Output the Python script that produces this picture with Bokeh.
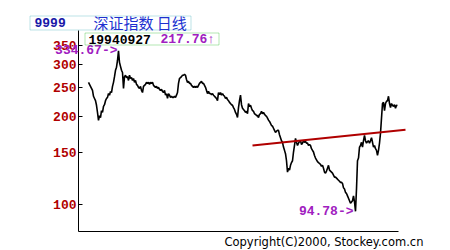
from bokeh.plotting import figure
from bokeh.models import Range1d, FixedTicker, PrintfTickFormatter, Label, BoxAnnotation
from bokeh.embed import file_html
from bokeh.resources import INLINE

# daily close of the Shenzhen index (one value per trading-day slot)
close = [
    261, 257, 253, 249, 245, 234, 230, 226, 218, 206,
    193.5, 201, 198, 209, 206, 216, 219, 226, 230, 232,
    239, 236, 243, 241, 253, 261, 273, 287, 294, 310,
    334.67, 305, 296, 287, 282, 249, 273, 276, 271, 273,
    265, 276, 269, 271, 265, 269, 261, 265, 257, 255,
    251, 249, 253, 245, 241, 253, 255, 257, 261, 259,
    261, 257, 261, 259, 261, 255, 253, 251, 253, 249,
    251, 247, 245, 247, 243, 241, 245, 236, 239, 230,
    239, 236, 232, 234, 232, 232, 234, 232, 236, 241,
    259, 269, 271, 273, 276, 276, 278, 276, 267, 261,
    263, 259, 259, 255, 253, 251, 253, 251, 253, 251,
    255, 259, 261, 263, 259, 259, 255, 251, 245, 239,
    243, 239, 239, 237, 239, 236, 234, 232, 230, 226,
    241, 237, 241, 236, 239, 236, 234, 230, 232, 228,
    226, 223, 221, 219, 218, 214, 211, 206, 203, 198,
    214, 226, 236, 219, 213, 211, 209, 206, 208, 204,
    221, 216, 218, 213, 209, 208, 204, 203, 201, 201,
    198, 203, 204, 208, 204, 206, 203, 201, 200, 197,
    194, 192, 189, 186, 185, 182, 179, 176, 178, 179,
    179, 173, 169, 165, 163, 157, 153, 149, 141, 129,
    133, 131, 136, 139, 141, 151, 159, 168, 163, 159,
    162, 164, 165, 160, 162, 165, 163, 164, 162, 162,
    159, 160, 159, 155, 153, 151, 147, 144, 142, 140,
    139, 138, 137, 135, 136, 133, 129, 128, 130, 133,
    136, 131, 130, 129, 128, 126, 124, 124, 123, 122,
    121, 120, 119, 119, 118, 114, 113, 110, 109, 107,
    105, 103, 101, 102, 103, 107, 102, 94.78, 113, 141,
    144, 157, 159, 163, 157, 165, 172, 165, 162, 164,
    165, 162, 165, 169, 163, 157, 159, 155, 153, 147,
    153, 162, 175, 197, 221, 223, 209, 221, 225, 226,
    234, 221, 214, 221, 218, 216, 219, 213, 218, 217.76,
]
day = list(range(10, 10 + len(close)))

trend_day = [174, 327]
trend_val = [159.0, 180.0]

peak_day, peak_val = 40, 334.67
low_day, low_val = 277, 94.78

tick_vals = [100, 150, 200, 250, 300, 350]
axis_x_span = (0, 320)
axis_y_span = (80.89, 392.3)
code = "9999"
name = "深证指数 日线"
last_date = "19940927"
last_val = "217.76↑"
copyright_text = "Copyright(C)2000, Stockey.com.cn"

MONO = "Liberation Mono"
RED = "#b00000"
PURPLE = "#a020c0"

p = figure(width=450, height=250, x_range=Range1d(-78, 372), y_range=Range1d(69.67, 496.5),
           y_axis_type="log", output_backend="svg", toolbar_location=None, min_border=0)
p.outline_line_color = None
p.xgrid.visible = False
p.ygrid.visible = False
p.background_fill_color = "white"
p.border_fill_color = "white"

# x axis: plain line only
p.xaxis.ticker = FixedTicker(ticks=[])
p.xaxis.major_tick_line_color = None
p.xaxis.minor_tick_line_color = None
p.xaxis.fixed_location = axis_y_span[0]
p.xaxis.bounds = axis_x_span
p.xaxis.axis_line_color = "black"

# y axis
p.yaxis.ticker = FixedTicker(ticks=tick_vals, minor_ticks=[])
p.yaxis.formatter = PrintfTickFormatter(format="%d")
p.yaxis.fixed_location = axis_x_span[0]
p.yaxis.bounds = axis_y_span
p.yaxis.major_tick_in = 4
p.yaxis.major_tick_out = 0
p.yaxis.minor_tick_line_color = None
p.yaxis.major_label_standoff = 2
p.yaxis.major_label_text_font = MONO
p.yaxis.major_label_text_font_style = "bold"
p.yaxis.major_label_text_font_size = "13px"
p.yaxis.major_label_text_color = RED
p.yaxis.axis_line_color = "black"

p.line(day, close, color="black", line_width=1.6)
p.line(trend_day, trend_val, color=RED, line_width=2)

# value markers
p.add_layout(Label(x=peak_day - 1, y=peak_val, text=f"{peak_val:.2f}->", text_align="right",
                   text_baseline="middle", text_font=MONO, text_font_style="bold",
                   text_font_size="13px", text_color=PURPLE))
p.add_layout(Label(x=low_day - 2, y=low_val, text=f"{low_val:.2f}->", text_align="right",
                   text_baseline="middle", text_font=MONO, text_font_style="bold",
                   text_font_size="13px", text_color=PURPLE))

# header boxes (screen units, frame == whole canvas, y measured from bottom)
p.add_layout(BoxAnnotation(left=29.5, right=190.5, top=234.5, bottom=220.5,
                           left_units="screen", right_units="screen",
                           top_units="screen", bottom_units="screen",
                           fill_color=None, line_color="#20a0b0", line_width=1))
p.add_layout(Label(x=34, y=228, x_units="screen", y_units="screen", text=code,
                   text_baseline="middle", text_font=MONO, text_font_style="bold",
                   text_font_size="13px", text_color="#1818a8"))
p.add_layout(Label(x=93, y=228, x_units="screen", y_units="screen", text=name,
                   text_baseline="middle", text_font="Noto Sans CJK SC",
                   text_font_size="15px", text_color="#2030d0"))

p.add_layout(BoxAnnotation(left=84.5, right=218.5, top=217.5, bottom=205.5,
                           left_units="screen", right_units="screen",
                           top_units="screen", bottom_units="screen",
                           fill_color=None, line_color="#00b000", line_width=1))
p.add_layout(Label(x=88, y=211.5, x_units="screen", y_units="screen", text=last_date,
                   text_baseline="middle", text_font=MONO, text_font_style="bold",
                   text_font_size="13px", text_color="black"))
p.add_layout(Label(x=160, y=211.5, x_units="screen", y_units="screen", text=last_val,
                   text_baseline="middle", text_font=MONO, text_font_style="bold",
                   text_font_size="13px", text_color=PURPLE))

p.add_layout(Label(x=224, y=9, x_units="screen", y_units="screen", text=copyright_text,
                   text_baseline="middle", text_font="DejaVu Sans",
                   text_font_size="11.5px", text_color="black"))

open("out.html", "w").write(file_html(p, INLINE))
